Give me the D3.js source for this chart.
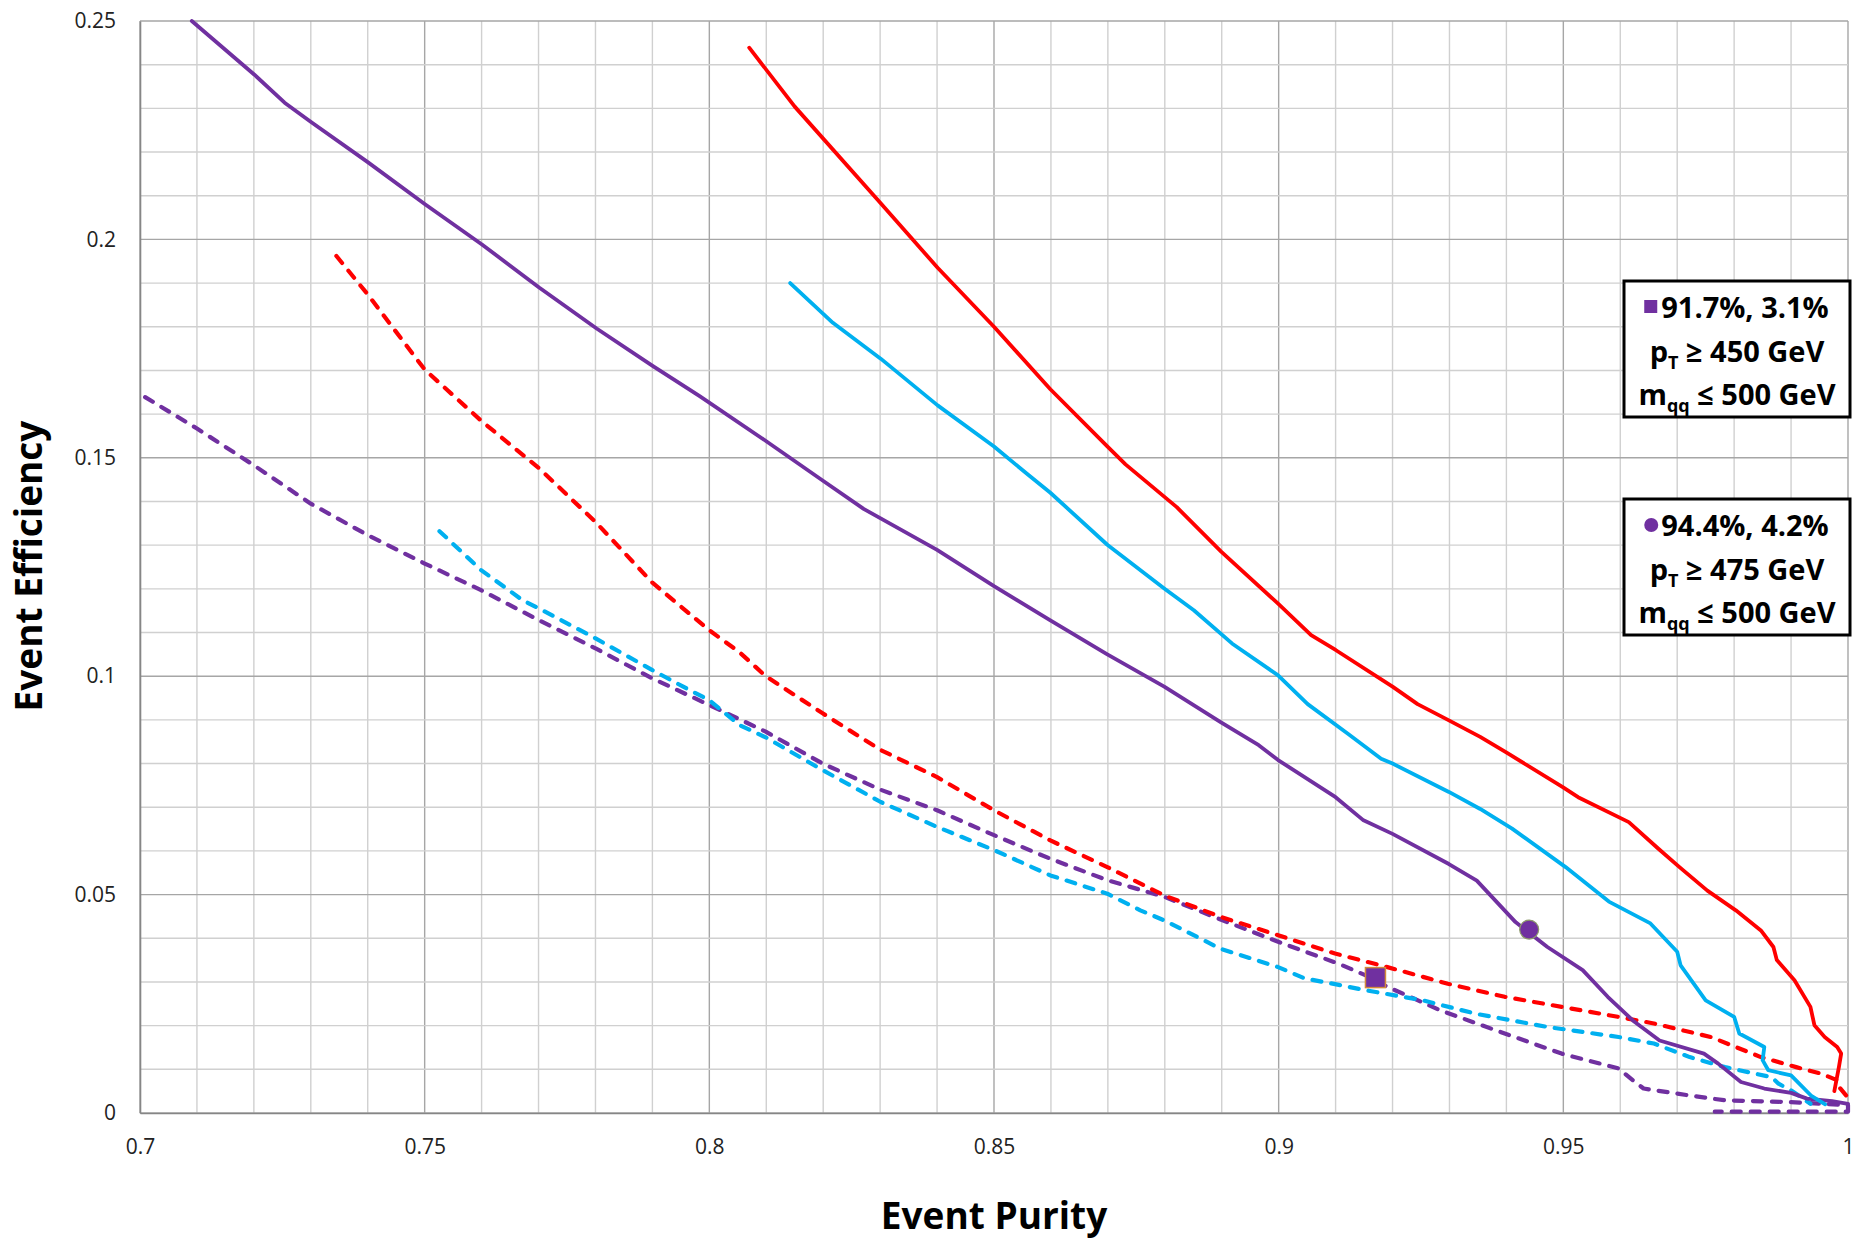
<!DOCTYPE html>
<html>
<head>
<meta charset="utf-8">
<script src="https://cdn.jsdelivr.net/npm/d3@7"></script>
<style>
body { margin: 0; background: #fff; }
text { font-family: "Open Sans", "DejaVu Sans", sans-serif; }
</style>
</head>
<body>
<svg id="container"></svg>
<script>
// Event purity vs event efficiency curves, [purity, efficiency]
var purpleSolid = [
    [0.7091, 0.2500], [0.7201, 0.2377], [0.7254, 0.2313], [0.7301, 0.2268], [0.7400, 0.2177],
    [0.7500, 0.2081], [0.7600, 0.1989], [0.7701, 0.1890], [0.7802, 0.1796], [0.7901, 0.1710],
    [0.7983, 0.1641], [0.8100, 0.1538], [0.8199, 0.1448], [0.8271, 0.1383], [0.8400, 0.1289],
    [0.8500, 0.1206], [0.8599, 0.1128], [0.8699, 0.1050], [0.8799, 0.0976], [0.8898, 0.0895],
    [0.8965, 0.0842], [0.8999, 0.0808], [0.9100, 0.0723], [0.9149, 0.0670], [0.9200, 0.0639],
    [0.9299, 0.0570], [0.9348, 0.0532], [0.9416, 0.0437], [0.9472, 0.0380], [0.9534, 0.0327],
    [0.9578, 0.0266], [0.9622, 0.0212], [0.9669, 0.0166], [0.9747, 0.0136], [0.9772, 0.0113],
    [0.9812, 0.0071], [0.9853, 0.0056], [0.9900, 0.0046], [0.9928, 0.0033], [0.9972, 0.0027],
    [1.0000, 0.0021]
];
var cyanSolid = [
    [0.8142, 0.1900], [0.8217, 0.1809], [0.8301, 0.1727], [0.8401, 0.1620], [0.8500, 0.1526],
    [0.8560, 0.1461], [0.8599, 0.1420], [0.8699, 0.1301], [0.8799, 0.1201], [0.8851, 0.1151],
    [0.8918, 0.1075], [0.8999, 0.1002], [0.9051, 0.0936], [0.9121, 0.0869], [0.9180, 0.0811],
    [0.9200, 0.0800], [0.9299, 0.0735], [0.9354, 0.0696], [0.9410, 0.0651], [0.9504, 0.0563],
    [0.9580, 0.0484], [0.9653, 0.0434], [0.9700, 0.0369], [0.9706, 0.0338], [0.9750, 0.0258],
    [0.9800, 0.0220], [0.9809, 0.0182], [0.9853, 0.0151], [0.9850, 0.0121], [0.9860, 0.0098],
    [0.9900, 0.0086], [0.9935, 0.0040], [0.9960, 0.0020]
];
var redSolid = [
    [0.8070, 0.2439], [0.8150, 0.2304], [0.8301, 0.2083], [0.8401, 0.1935], [0.8500, 0.1800],
    [0.8599, 0.1657], [0.8699, 0.1526], [0.8731, 0.1485], [0.8821, 0.1387], [0.8899, 0.1285],
    [0.8999, 0.1166], [0.9057, 0.1094], [0.9100, 0.1060], [0.9200, 0.0976], [0.9244, 0.0936],
    [0.9299, 0.0899], [0.9354, 0.0861], [0.9399, 0.0826], [0.9499, 0.0746], [0.9526, 0.0723],
    [0.9615, 0.0666], [0.9667, 0.0605], [0.9704, 0.0563], [0.9753, 0.0509], [0.9803, 0.0464],
    [0.9847, 0.0418], [0.9869, 0.0380], [0.9875, 0.0350], [0.9906, 0.0304], [0.9934, 0.0243],
    [0.9941, 0.0201], [0.9959, 0.0174], [0.9981, 0.0151], [0.9988, 0.0136], [0.9984, 0.0105],
    [0.9976, 0.0050]
];
var purpleDashed = [
    [0.7009, 0.1639], [0.7100, 0.1567], [0.7201, 0.1482], [0.7300, 0.1395], [0.7400, 0.1323],
    [0.7500, 0.1258], [0.7599, 0.1197], [0.7701, 0.1128], [0.7801, 0.1063], [0.7900, 0.0995],
    [0.8000, 0.0934], [0.8099, 0.0873], [0.8199, 0.0800], [0.8301, 0.0740], [0.8400, 0.0693],
    [0.8500, 0.0636], [0.8599, 0.0582], [0.8699, 0.0533], [0.8799, 0.0495], [0.8898, 0.0443],
    [0.8999, 0.0392], [0.9105, 0.0342], [0.9153, 0.0315], [0.9191, 0.0289], [0.9284, 0.0235],
    [0.9397, 0.0182], [0.9497, 0.0136], [0.9597, 0.0102], [0.9622, 0.0075], [0.9641, 0.0056],
    [0.9722, 0.0040], [0.9784, 0.0029], [0.9900, 0.0025], [1.0000, 0.0018], [1.0000, 0.0003],
    [0.9766, 0.0003]
];
var cyanDashed = [
    [0.7526, 0.1332], [0.7599, 0.1243], [0.7672, 0.1174], [0.7701, 0.1155], [0.7801, 0.1086],
    [0.7900, 0.1014], [0.7954, 0.0976], [0.8000, 0.0945], [0.8053, 0.0888], [0.8099, 0.0860],
    [0.8199, 0.0785], [0.8301, 0.0712], [0.8400, 0.0655], [0.8500, 0.0602], [0.8599, 0.0544],
    [0.8699, 0.0502], [0.8757, 0.0464], [0.8799, 0.0441], [0.8898, 0.0376], [0.8999, 0.0334],
    [0.9046, 0.0308], [0.9099, 0.0295], [0.9153, 0.0281], [0.9253, 0.0258], [0.9347, 0.0227],
    [0.9472, 0.0197], [0.9597, 0.0174], [0.9659, 0.0159], [0.9722, 0.0128], [0.9784, 0.0105],
    [0.9866, 0.0082], [0.9878, 0.0067], [0.9900, 0.0052], [0.9934, 0.0021]
];
var redDashed = [
    [0.7345, 0.1962], [0.7400, 0.1874], [0.7500, 0.1702], [0.7600, 0.1584], [0.7701, 0.1476],
    [0.7801, 0.1352], [0.7900, 0.1214], [0.8000, 0.1105], [0.8052, 0.1056], [0.8099, 0.1000],
    [0.8199, 0.0915], [0.8301, 0.0831], [0.8400, 0.0769], [0.8500, 0.0693], [0.8599, 0.0624],
    [0.8699, 0.0563], [0.8799, 0.0498], [0.8898, 0.0449], [0.8999, 0.0407], [0.9099, 0.0365],
    [0.9191, 0.0334], [0.9297, 0.0296], [0.9397, 0.0266], [0.9497, 0.0243], [0.9597, 0.0220],
    [0.9659, 0.0205], [0.9759, 0.0174], [0.9803, 0.0151], [0.9847, 0.0128], [0.9909, 0.0105],
    [0.9953, 0.0090], [0.9981, 0.0075], [0.9984, 0.0060], [1.0000, 0.0035]
];

// Highlighted working points
var squarePoint = [0.917, 0.031];
var circlePoint = [0.944, 0.042];

var xTicks = [0.7, 0.75, 0.8, 0.85, 0.9, 0.95, 1];
var yTicks = [0, 0.05, 0.1, 0.15, 0.2, 0.25];
var xTitle = "Event Purity";
var yTitle = "Event Efficiency";

var boxLines = [
    ["91.7%, 3.1%", ["p", "T", " \u2265 450 GeV"], ["m", "qq", " \u2264 500 GeV"]],
    ["94.4%, 4.2%", ["p", "T", " \u2265 475 GeV"], ["m", "qq", " \u2264 500 GeV"]]
];

var purple = "#7030A0", cyan = "#00B0F0", red = "#FF0000";

function drawChart()
{
    const width = 1858, height = 1239;
    const left = 140, right = 1848, top = 21, bottom = 1113;

    const svg = d3.select('#container').attr("width", width).attr("height", height);
    svg.append("rect").attr("width", width).attr("height", height).attr("fill", "#fff");

    const x = d3.scaleLinear().domain([0.7, 1]).range([left, right]);
    const y = d3.scaleLinear().domain([0, 0.25]).range([bottom, top]);

    // grid: minor every 0.01, major every 0.05
    const minorX = d3.range(70, 101).map(v => v / 100);
    const minorY = d3.range(0, 26).map(v => v / 100);
    const grid = svg.append("g");
    grid.selectAll("line.vx").data(minorX).join("line")
        .attr("x1", d => x(d)).attr("x2", d => x(d)).attr("y1", top).attr("y2", bottom)
        .attr("stroke", (d, i) => i % 5 == 0 ? "#a6a6a6" : "#d0d0d0").attr("stroke-width", 1.4);
    grid.selectAll("line.hy").data(minorY).join("line")
        .attr("y1", d => y(d)).attr("y2", d => y(d)).attr("x1", left).attr("x2", right)
        .attr("stroke", (d, i) => i % 5 == 0 ? "#a6a6a6" : "#d0d0d0").attr("stroke-width", 1.4);

    // axes
    const fmt = d => String(+d.toFixed(2));
    const xAxis = svg.append("g").attr("transform", "translate(0," + bottom + ")")
        .call(d3.axisBottom(x).tickValues(xTicks).tickFormat(fmt).tickSize(0).tickPadding(26));
    const yAxis = svg.append("g").attr("transform", "translate(" + left + ",0)")
        .call(d3.axisLeft(y).tickValues(yTicks).tickFormat(fmt).tickSize(0).tickPadding(24));
    [xAxis, yAxis].forEach(a => {
        a.select(".domain").attr("stroke", "#868686").attr("stroke-width", 1.6);
        a.selectAll("text").attr("font-size", 21).attr("fill", "#222")
            .style("font-family", "'Open Sans', sans-serif");
    });

    svg.append("text").attr("x", (left + right) / 2).attr("y", 1229)
        .attr("text-anchor", "middle").attr("font-size", 37).attr("font-weight", "bold")
        .text(xTitle);
    svg.append("text").attr("transform", "translate(42," + 566 + ") rotate(-90)")
        .attr("text-anchor", "middle").attr("font-size", 37).attr("font-weight", "bold")
        .text(yTitle);

    // curves
    svg.append("clipPath").attr("id", "plotClip").append("rect")
        .attr("x", left).attr("y", top - 2).attr("width", right - left + 4).attr("height", bottom - top + 4);
    const line = d3.line().x(d => x(d[0])).y(d => y(d[1]));
    const series = [
        { data: purpleDashed, color: purple, dashed: true },
        { data: cyanDashed, color: cyan, dashed: true },
        { data: redDashed, color: red, dashed: true },
        { data: purpleSolid, color: purple, dashed: false },
        { data: cyanSolid, color: cyan, dashed: false },
        { data: redSolid, color: red, dashed: false }
    ];
    const curves = svg.append("g").attr("clip-path", "url(#plotClip)");
    curves.selectAll("path").data(series).join("path")
        .attr("d", d => line(d.data))
        .attr("fill", "none")
        .attr("stroke", d => d.color)
        .attr("stroke-width", d => d.dashed ? 4.2 : 3.8)
        .attr("stroke-linejoin", "round")
        .attr("stroke-linecap", "round")
        .attr("stroke-dasharray", d => d.dashed ? "9,10" : null);

    // markers
    svg.append("rect")
        .attr("x", x(squarePoint[0]) - 10).attr("y", y(squarePoint[1]) - 10)
        .attr("width", 20).attr("height", 20)
        .attr("fill", purple).attr("stroke", "#d38b3a").attr("stroke-width", 1.5);
    svg.append("circle")
        .attr("cx", x(circlePoint[0])).attr("cy", y(circlePoint[1])).attr("r", 9.5)
        .attr("fill", purple).attr("stroke", "#8c9a6a").attr("stroke-width", 1.2);

    // annotation boxes
    const boxTops = [281, 499];
    boxLines.forEach((lines, bi) => {
        const g = svg.append("g").attr("transform", "translate(1624," + boxTops[bi] + ")");
        g.append("rect").attr("width", 226).attr("height", 136)
            .attr("fill", "#fff").attr("stroke", "#000").attr("stroke-width", 3);
        const cx = 113;
        const t0 = g.append("text").attr("x", cx + 8).attr("y", 37).attr("text-anchor", "middle")
            .attr("font-size", 29).attr("font-weight", "bold").text(lines[0]);
        const w0 = t0.node().getComputedTextLength();
        const mx = cx + 8 - w0 / 2 - 10;
        if (bi == 0)
        {
            g.append("rect").attr("x", mx - 7).attr("y", 19).attr("width", 13).attr("height", 13).attr("fill", purple);
        }
        else
        {
            g.append("circle").attr("cx", mx).attr("cy", 26).attr("r", 7).attr("fill", purple);
        }
        [lines[1], lines[2]].forEach((parts, li) => {
            const t = g.append("text").attr("x", cx).attr("y", 81 + li * 43).attr("text-anchor", "middle")
                .attr("font-size", 29).attr("font-weight", "bold");
            t.append("tspan").text(parts[0]);
            t.append("tspan").attr("font-size", 18).attr("dy", 7).text(parts[1]);
            t.append("tspan").attr("dy", -7).text(parts[2]);
        });
    });
}

drawChart();
</script>
</body>
</html>
